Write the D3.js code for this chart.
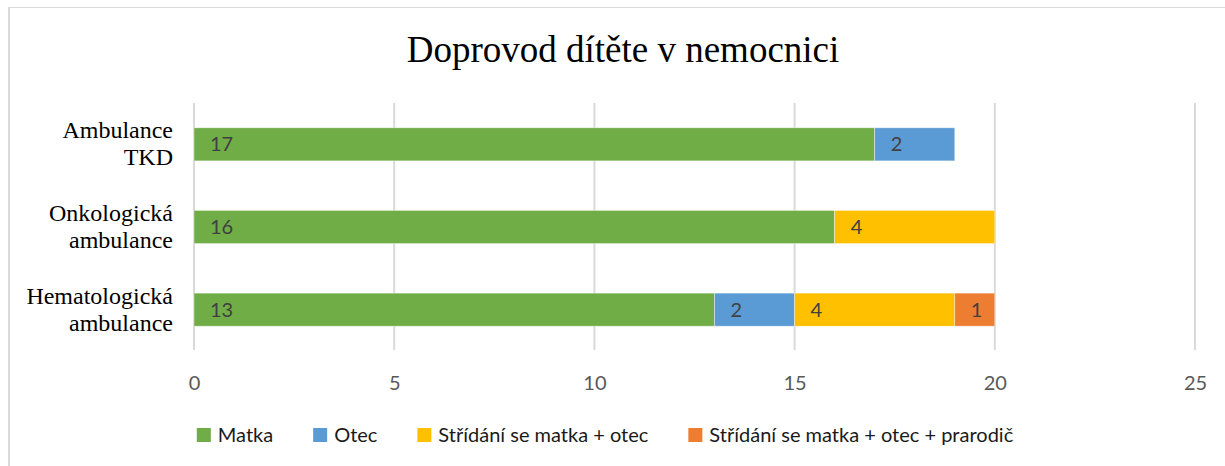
<!DOCTYPE html>
<html>
<head>
<meta charset="utf-8">
<script src="https://cdn.jsdelivr.net/npm/d3@7"></script>
<style>
  html, body { margin: 0; padding: 0; background: #fff; }
  svg { display: block; }
</style>
</head>
<body>
<svg id="chart" width="1225" height="466"></svg>
<script>
// ---- Data ----
const title = "Doprovod dítěte v nemocnici";
const categories = ["Ambulance TKD", "Onkologická ambulance", "Hematologická ambulance"];
const categoryLines = [["Ambulance", "TKD"], ["Onkologická", "ambulance"], ["Hematologická", "ambulance"]];
const seriesNames = ["Matka", "Otec", "Střídání se matka + otec", "Střídání se matka + otec + prarodič"];
const matka = [17, 16, 13];
const otec = [2, 0, 2];
const stridaniMatkaOtec = [0, 4, 4];
const stridaniPrarodic = [0, 0, 1];
const xTicks = [0, 5, 10, 15, 20, 25];
const colors = ["#70AD47", "#5B9BD5", "#FFC000", "#ED7D31"];

const seriesValues = [matka, otec, stridaniMatkaOtec, stridaniPrarodic];
const rows = categories.map((c, i) => {
  const r = { category: c };
  seriesNames.forEach((s, j) => { r[s] = seriesValues[j][i]; });
  return r;
});

const svg = d3.select("#chart");
const sans = "Lato, 'Open Sans', sans-serif";
const serif = "'Liberation Serif', 'Times New Roman', serif";

// frame
svg.append("line").attr("x1", 9).attr("x2", 9).attr("y1", 7).attr("y2", 466)
  .attr("stroke", "#d9d9d9").attr("stroke-width", 2);
svg.append("line").attr("x1", 8).attr("x2", 1225).attr("y1", 7.5).attr("y2", 7.5)
  .attr("stroke", "#d9d9d9").attr("stroke-width", 1);

// title
svg.append("text").attr("x", 623).attr("y", 62)
  .attr("text-anchor", "middle")
  .attr("font-family", serif)
  .attr("font-size", 37).attr("fill", "#000").text(title);

const x = d3.scaleLinear().domain([0, 25]).range([194, 1195]);
const y = d3.scaleBand().domain(categories).range([103, 351]).paddingInner(0.6).paddingOuter(0.3);

// gridlines
svg.append("g").selectAll("line").data(xTicks).join("line")
  .attr("x1", d => x(d)).attr("x2", d => x(d))
  .attr("y1", 103).attr("y2", 350)
  .attr("stroke", "#d9d9d9").attr("stroke-width", 2);

// x axis labels
const xAxis = d3.axisBottom(x).tickValues(xTicks).tickSize(0).tickPadding(0);
const gx = svg.append("g").attr("transform", "translate(0,390)").call(xAxis);
gx.select(".domain").remove();
gx.selectAll("text").attr("dy", 0)
  .attr("font-family", sans)
  .attr("font-size", 20).attr("fill", "#595959");

// stacked bars
const stack = d3.stack().keys(seriesNames)(rows);
const layers = svg.append("g").selectAll("g").data(stack).join("g")
  .attr("fill", (d, i) => colors[i]);
layers.selectAll("rect").data(d => d.filter(p => p[1] - p[0] > 0)).join("rect")
  .attr("x", d => x(d[0]))
  .attr("width", d => x(d[1]) - x(d[0]))
  .attr("y", d => y(d.data.category))
  .attr("height", y.bandwidth())
  .attr("stroke", "rgba(255,255,255,0.5)").attr("stroke-width", 0.75);

// value labels
layers.selectAll("text").data(d => d.filter(p => p[1] - p[0] > 0)).join("text")
  .attr("x", d => x(d[0]) + 16)
  .attr("y", d => y(d.data.category) + y.bandwidth() / 2 + 7)
  .attr("font-family", sans)
  .attr("font-size", 20).attr("fill", "#404040")
  .text(d => d[1] - d[0]);

// category labels
const cat = svg.append("g").selectAll("text").data(categories).join("text")
  .attr("text-anchor", "end")
  .attr("font-family", serif)
  .attr("font-size", 24).attr("fill", "#000");
cat.each(function(c, i) {
  const cy = y(c) + y.bandwidth() / 2;
  const t = d3.select(this);
  categoryLines[i].forEach((ln, k) => {
    t.append("tspan").attr("x", 173).attr("y", cy - 6 + k * 27).text(ln);
  });
});

// legend
const legend = svg.append("g");
const items = legend.selectAll("g").data(seriesNames).join("g");
items.append("rect").attr("width", 14).attr("height", 14).attr("y", -14)
  .attr("fill", (d, i) => colors[i]);
items.append("text").attr("x", 21).attr("y", 0)
  .attr("font-family", sans)
  .attr("font-size", 20).attr("fill", "#1a1a1a").text(d => d);
const widths = [];
items.each(function() {
  widths.push(21 + d3.select(this).select("text").node().getComputedTextLength());
});
const total = d3.sum(widths) + 40 * (widths.length - 1);
let start = 605 - total / 2;
items.attr("transform", (d, i) => {
  const tx = start;
  start += widths[i] + 40;
  return `translate(${tx},442)`;
});
</script>
</body>
</html>
